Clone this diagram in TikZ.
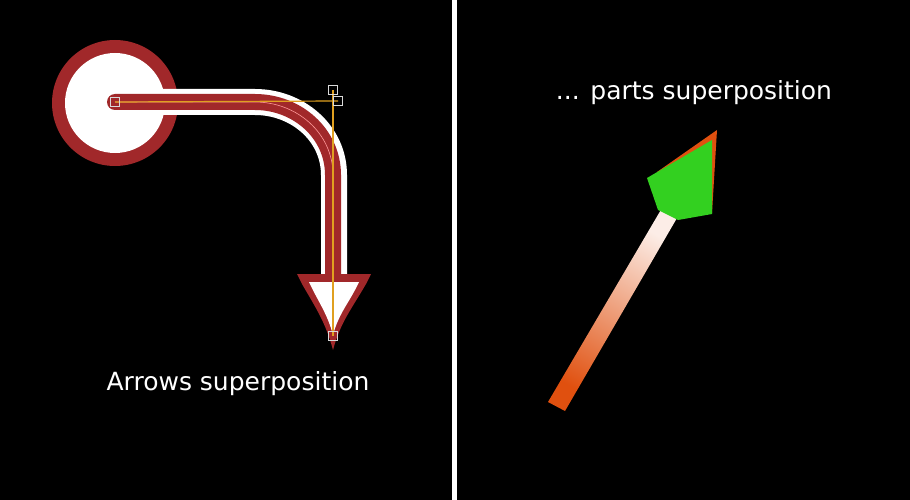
\documentclass[tikz,border=0pt]{standalone}
\usepackage{fontspec}
\setmainfont{DejaVu Sans}
\definecolor{darkred}{HTML}{A1282A}
\definecolor{handle}{HTML}{E0A020}
\definecolor{redorange}{HTML}{E0500F}
\definecolor{leafgreen}{HTML}{33D020}
\tikzset{
  handlebox/.style={draw=white!85!black,line width=0.8pt,fill=none},
  caption/.style={text=white,font=\fontsize{25}{30}\selectfont},
}
\begin{document}
\begin{tikzpicture}[x=1pt,y=-1pt]
\fill[black] (0,0) rectangle (910,500);
\fill[white] (452,0) rectangle (457,500); % divider

%left%%%%%%%%%%%%%%%%%%%%%%%%%%%%%%%%%%%%%%%%%%%%%%%%%%%%%%%%%%%

\fill[darkred] (115,103) circle (63);
\fill[white] (115,103) circle (50);

\coordinate (start) at (115,102);
\coordinate (stem) at (333,276);
\coordinate (tip) at (333,336);

\draw[white,line width=26,line cap=round] (start) -- (255,102) to[out=0,in=90] (334,175) -- (334,276);
\draw[darkred,line width=16,line cap=round] (start) -- (255,102) to[out=0,in=90] (333,175) -- (stem);
\draw[red!40!white,line width=0.6] (start) -- (255,102) to[out=0,in=90] (333,175) -- (stem);

\fill[darkred] (297,274) -- (371,274) -- (366,284) to[out=240,in=75] (333,350) to[out=105,in=-60] (302,284) -- cycle;
\fill[white] (309,282) -- (359,282) to[out=245,in=75] (333,335) to[out=105,in=-65] cycle;

\draw[handle,line width=1.2] (start) -- (338,101);
\draw[handle,line width=1.2] (333,90) -- (tip);
\node[handlebox,minimum size=9,inner sep=0] (h1) at (start) {};
\node[handlebox,minimum size=9,inner sep=0] (h2) at (333,90) {};
\node[handlebox,minimum size=9,inner sep=0] (h3) at (338,101) {};
\node[handlebox,minimum size=9,inner sep=0] (h4) at (tip) {};

\node[caption] (lefttitle) at (238,384) {Arrows superposition};

%right%%%%%%%%%%%%%%%%%%%%%%%%%%%%%%%%%%%%%%%%%%%%%%%%%%%%%%%%%%

\node[caption] (righttitle) at (694,93) {... parts superposition};

\shade[top color=white!90!redorange,bottom color=redorange,middle color=redorange!55!white,shading angle=-30]
  (548,402) -- (565,411) -- (677,218) -- (662,208) -- cycle; % shaft
\fill[redorange] (657,172) -- (717,130) -- (712,213) -- cycle; % back
\fill[leafgreen] (647,178) -- (712,140) -- (712,214) -- (678,220) -- (658,210) -- cycle; % front
\end{tikzpicture}
\end{document}
